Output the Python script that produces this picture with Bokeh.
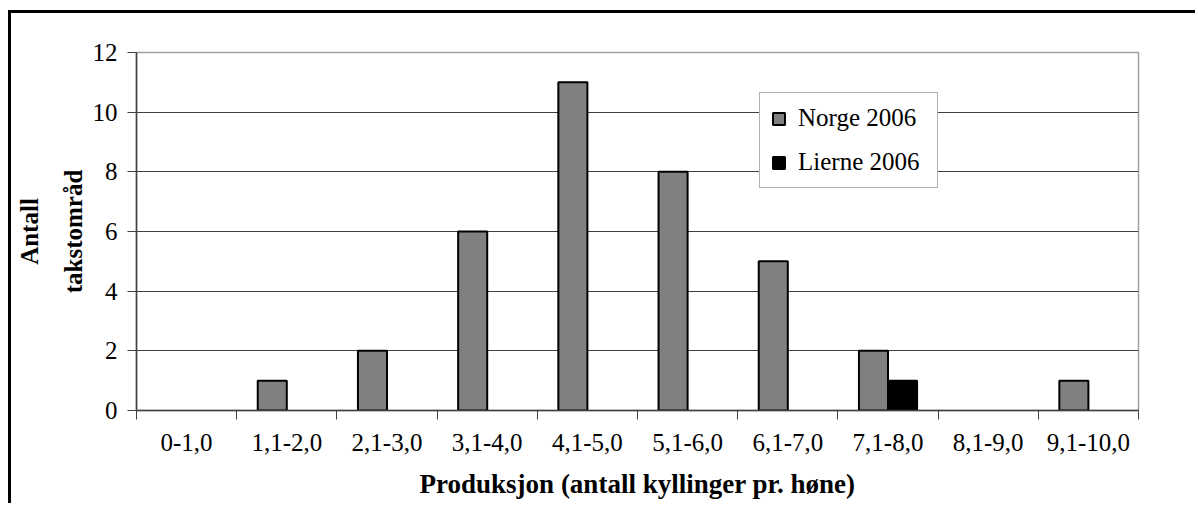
from bokeh.plotting import figure
from bokeh.models import (ColumnDataSource, Range1d, FixedTicker, Legend, LegendItem,
                          CDSView, BooleanFilter)
from bokeh.transform import dodge
from bokeh.embed import file_html
from bokeh.resources import INLINE

# Production classes (chicks per hen) and number of survey areas per class
categories = ["0-1,0", "1,1-2,0", "2,1-3,0", "3,1-4,0", "4,1-5,0",
              "5,1-6,0", "6,1-7,0", "7,1-8,0", "8,1-9,0", "9,1-10,0"]
norge_2006 = [0, 1, 2, 6, 11, 8, 5, 2, 0, 1]
lierne_2006 = [0, 0, 0, 0, 0, 0, 0, 1, 0, 0]
y_ticks = [0, 2, 4, 6, 8, 10, 12]

FONT = "Liberation Serif"
GRID = "#404040"
TXT = "25px"

centers = [i + 0.5 for i in range(len(categories))]
src = ColumnDataSource(dict(
    xc=centers,
    norge=norge_2006,
    lierne=lierne_2006,
))

p = figure(width=1187, height=493, output_backend="svg", toolbar_location=None,
           x_range=Range1d(0, len(categories)), y_range=Range1d(0, 12),
           min_border_left=125, min_border_top=39, min_border_right=60,
           min_border_bottom=96)
p.margin = (10, 0, 0, 8)
p.styles = {"border-left": "3px solid black", "border-top": "3px solid black"}

p.background_fill_color = "white"
p.border_fill_color = "white"
p.outline_line_color = "#a0a0a0"
p.outline_line_width = 1.5

# Grouped bars, one offset to each side of the class centre
bw = 0.29
norge_view = CDSView(filter=BooleanFilter([v > 0 for v in norge_2006]))
lierne_view = CDSView(filter=BooleanFilter([v > 0 for v in lierne_2006]))
r_norge = p.vbar(x=dodge("xc", -0.145), top="norge", bottom=0, width=bw, source=src,
                 view=norge_view, fill_color="#808080", line_color="black", line_width=2)
r_lierne = p.vbar(x=dodge("xc", 0.145), top="lierne", bottom=0, width=bw, source=src,
                  view=lierne_view, fill_color="black", line_color="black", line_width=2)

# Axes
xa = p.xaxis[0]
xa.ticker = FixedTicker(ticks=centers, minor_ticks=list(range(len(categories) + 1)))
xa.major_label_overrides = {c: lab for c, lab in zip(centers, categories)}
xa.major_tick_out = 0
xa.major_tick_in = 0
xa.minor_tick_out = 9
xa.minor_tick_in = 0
xa.minor_tick_line_color = GRID
xa.axis_line_color = GRID
xa.axis_line_width = 1.5
xa.major_label_text_font = FONT
xa.major_label_text_font_size = TXT
xa.major_label_text_color = "black"
xa.major_label_standoff = 14
xa.axis_label = "Produksjon (antall kyllinger pr. høne)"
xa.axis_label_text_font = FONT
xa.axis_label_text_font_size = "27px"
xa.axis_label_text_font_style = "bold"
xa.axis_label_text_color = "black"
xa.axis_label_standoff = 15

ya = p.yaxis[0]
ya.ticker = FixedTicker(ticks=y_ticks)
ya.major_tick_out = 9
ya.major_tick_in = 0
ya.minor_tick_out = 0
ya.minor_tick_in = 0
ya.major_tick_line_color = GRID
ya.axis_line_color = GRID
ya.axis_line_width = 1.5
ya.major_label_text_font = FONT
ya.major_label_text_font_size = TXT
ya.major_label_text_color = "black"
ya.major_label_standoff = 10
ya.axis_label = "Antall\ntakstområd"
ya.axis_label_text_font = FONT
ya.axis_label_text_font_size = "25px"
ya.axis_label_text_font_style = "bold"
ya.axis_label_text_color = "black"
ya.axis_label_text_line_height = 1.6
ya.axis_label_standoff = 3

p.xgrid.visible = False
p.ygrid.ticker = FixedTicker(ticks=y_ticks)
p.ygrid.grid_line_color = GRID
p.ygrid.grid_line_width = 1

legend = Legend(items=[LegendItem(label="Norge 2006", renderers=[r_norge]),
                       LegendItem(label="Lierne 2006", renderers=[r_lierne])],
                location=(623, 222))
legend.label_text_font = FONT
legend.label_text_font_size = TXT
legend.label_text_color = "black"
legend.label_height = 24
legend.label_width = 128
legend.glyph_height = 15
legend.glyph_width = 15
legend.spacing = 16
legend.padding = 11
legend.margin = 0
legend.label_standoff = 12
legend.border_line_color = "#606060"
legend.border_line_width = 1.5
legend.background_fill_color = "white"
legend.background_fill_alpha = 1.0
p.add_layout(legend, "center")

open("out.html", "w").write(file_html(p, INLINE))
